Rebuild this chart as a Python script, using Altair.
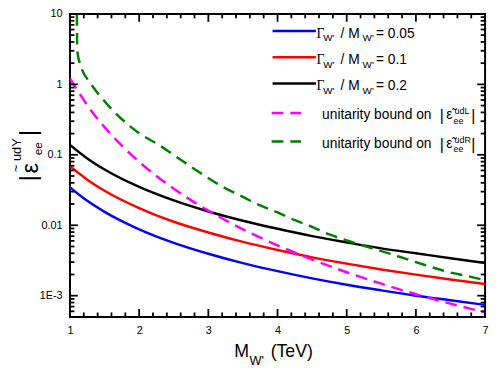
import math
import altair as alt
import pandas as pd

# ---- data ----
M_solid = [1, 1.25, 1.5, 2, 2.5, 3, 3.5, 4, 4.5, 5, 5.5, 6, 6.5, 7]
eps_w005 = [0.0345, 0.0222, 0.0155, 0.00876, 0.00563, 0.00394, 0.0029, 0.00223,
            0.00176, 0.00143, 0.00119, 0.00100, 0.00086, 0.00074]
eps_w01 = [0.069, 0.0444, 0.0309, 0.0175, 0.0112, 0.0079, 0.0058, 0.00445,
           0.0035, 0.00285, 0.00236, 0.00199, 0.0017, 0.00146]
eps_w02 = [0.138, 0.0887, 0.0618, 0.0350, 0.0225, 0.0157, 0.0116, 0.0089,
           0.0070, 0.0057, 0.0047, 0.0040, 0.0034, 0.0029]

M_udL = [1, 1.25, 1.5, 1.75, 2, 2.5, 3, 3.5, 4, 4.5, 5, 5.5, 6, 6.5, 7]
eps_udL = [1.22, 0.506, 0.247, 0.1345, 0.0795, 0.0330, 0.0161, 0.00876, 0.00518,
           0.00326, 0.00215, 0.00148, 0.00105, 0.00077, 0.00058]

M_udR = [1.10, 1.105, 1.15, 1.3, 1.5, 1.75, 2.0, 2.3, 2.6, 2.9, 3.2, 3.5, 3.75, 4.0,
         4.25, 4.5, 4.75, 5.0, 5.25, 5.5, 5.75, 6.0, 6.25, 6.5, 6.75, 7.0]
eps_udR = [10, 3.0, 1.9, 1.03, 0.575, 0.32, 0.203, 0.135, 0.085, 0.054, 0.0355,
           0.0252, 0.0191, 0.0152, 0.0118, 0.0095, 0.0074, 0.0061, 0.0051, 0.0043,
           0.0036, 0.0030, 0.0025, 0.00213, 0.0019, 0.00165]

x_major = [1, 2, 3, 4, 5, 6, 7]
x_minor = [round(1 + 0.2 * i, 1) for i in range(31) if i % 5 != 0]
y_major = [0.001, 0.01, 0.1, 1, 10]
y_minor = [k * 10.0 ** d for d in range(-4, 1) for k in range(2, 10)
           if 5e-4 <= k * 10.0 ** d <= 10]

X_LO, X_HI = 1, 7
Y_LO, Y_HI = 5e-4, 10
W, H = 422, 308
FONT = "Liberation Sans"

xscale = alt.Scale(domain=[X_LO, X_HI], nice=False, zero=False)
yscale = alt.Scale(type="log", domain=[Y_LO, Y_HI], nice=False)
xaxis = alt.Axis(values=x_major, format="d", ticks=False, tickSize=0, domain=False,
                 grid=False, labelFontSize=11, labelFont=FONT, labelColor="black",
                 labelPadding=8, title=None, labelFlush=False)
yaxis = alt.Axis(values=y_major,
                 labelExpr="datum.value >= 1 ? format(datum.value, 'd') : "
                           "(datum.value >= 0.005 ? format(datum.value, '.2~f') : '1E-3')",
                 ticks=False, tickSize=0, domain=False, grid=False, labelFontSize=11,
                 labelFont=FONT, labelColor="black", labelPadding=8, title=None,
                 labelFlush=False)


def X(f):
    return alt.X(f"{f}:Q", scale=xscale, axis=xaxis)


def Y(f):
    return alt.Y(f"{f}:Q", scale=yscale, axis=yaxis)


def curve(ms, vs, color, dash=None):
    df = pd.DataFrame({"M": ms, "v": vs})
    kw = dict(color=color, strokeWidth=2.5, interpolate="monotone", clip=True)
    if dash:
        kw["strokeDash"] = dash
    return alt.Chart(df).mark_line(**kw).encode(x=X("M"), y=Y("v"))


one = pd.DataFrame({"d": [0]})


def txt(s, x, y, size, angle=0, align="left", baseline="alphabetic", font=FONT):
    return alt.Chart(one).mark_text(text=s, fontSize=size, angle=angle, align=align,
                                    baseline=baseline, font=font, color="black").encode(
        x=alt.value(x), y=alt.value(y))


def lrule(x1, x2, y, color, dash=None):
    kw = dict(color=color, strokeWidth=2.5)
    if dash:
        kw["strokeDash"] = dash
    return alt.Chart(one).mark_rule(**kw).encode(x=alt.value(x1), x2=alt.value(x2), y=alt.value(y))


layers = []
# curves
layers.append(curve(M_solid, eps_w005, "#0000FF"))
layers.append(curve(M_solid, eps_w01, "#FF0000"))
layers.append(curve(M_solid, eps_w02, "#000000"))
layers.append(curve(M_udL, eps_udL, "#FF00FF", [12, 7]))
layers.append(curve(M_udR, eps_udR, "#008000", [12, 7]))

# inward ticks on all four sides, each tick a two-point segment in data units
px_per_dec = H / math.log10(Y_HI / Y_LO)
px_per_x = W / (X_HI - X_LO)
tx, ty, tid = [], [], []
n = 0
for vals, L in ((x_major, 8), (x_minor, 4.5)):
    f = 10 ** (L / px_per_dec)
    for v in vals:
        for a, b in ((Y_LO, Y_LO * f), (Y_HI / f, Y_HI)):
            tx += [v, v]
            ty += [a, b]
            tid += [n, n]
            n += 1
for vals, L in ((y_major, 8), (y_minor, 4.5)):
    dx = L / px_per_x
    for v in vals:
        for a, b in ((X_LO, X_LO + dx), (X_HI - dx, X_HI)):
            tx += [a, b]
            ty += [v, v]
            tid += [n, n]
            n += 1
ticks = pd.DataFrame({"tx": tx, "ty": ty, "tid": tid})
layers.append(alt.Chart(ticks).mark_line(color="black", strokeWidth=1.8).encode(
    x=X("tx"), y=Y("ty"), detail="tid:N"))

# legend
rows = [(17.3, "#0000FF", "0.05"), (44.0, "#FF0000", "0.1"), (70.7, "#000000", "0.2")]
for yl, col, val in rows:
    b = yl + 6.7
    layers.append(lrule(206, 250, yl, col))
    layers.append(txt("Γ", 250.7, b, 14, font="Liberation Serif"))
    layers.append(txt("W'", 257.5, b + 4, 10))
    layers.append(txt("/ M", 275, b, 14))
    layers.append(txt("W'", 297.5, b + 4, 10))
    layers.append(txt("= " + val, 311, b, 14))

for yl, col, sup in ((100.7, "#FF00FF", "udL"), (129.7, "#008000", "udR")):
    b = yl + 6.6
    layers.append(lrule(205, 235, yl, col, [12, 7]))
    layers.append(txt("unitarity bound on", 256.3, b, 14))
    layers.append(txt("|", 376, b + 2, 16))
    layers.append(txt("\u03b5\u0303", 382.5, b, 14))
    layers.append(txt(sup, 391, b - 5.5, 9))
    layers.append(txt("ee", 390, b + 4.5, 9))
    layers.append(txt("|", 408, b + 2, 16))

# x title
layers.append(txt("M", 167, 349, 18))
layers.append(txt("W'", 182.5, 357, 13))
layers.append(txt("(TeV)", 204, 349, 18))

# y title (rotated)
layers.append(txt("|", -42, 167, 24, angle=270, align="center", baseline="middle"))
layers.append(txt("ε", -40, 157, 24, angle=270, align="center", baseline="middle"))
layers.append(txt("~", -55, 157, 13, angle=270, align="center", baseline="middle"))
layers.append(txt("udY", -54, 138, 13, angle=270, align="center", baseline="middle"))
layers.append(txt("ee", -32, 137, 12, angle=270, align="center", baseline="middle"))
layers.append(txt("|", -42, 121, 24, angle=270, align="center", baseline="middle"))

chart = alt.layer(*layers).properties(
    width=W, height=H,
    autosize=alt.AutoSizeParams(type="none"),
    padding={"left": 63, "top": 3, "right": 5, "bottom": 53},
).configure_view(stroke="black", strokeWidth=2)

chart.save("out.html", embed_options={"renderer": "svg", "actions": False})
